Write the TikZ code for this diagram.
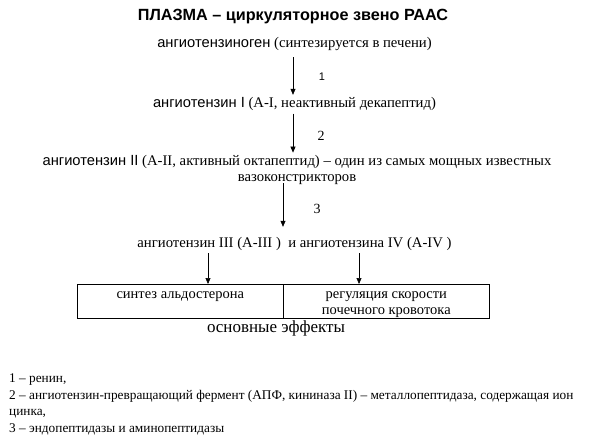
\documentclass[tikz,border=0pt]{standalone}
\usepackage{fontspec}
\setmainfont{Liberation Serif}
\newfontfamily\arial{Liberation Sans}
\usetikzlibrary{arrows.meta,positioning}
\tikzset{
  flow/.style={-{Triangle[length=6pt,width=5pt]}, line width=0.6pt},
  stage/.style={inner xsep=0pt, inner ysep=2pt, text height=10.5pt, text depth=4pt, anchor=base, font=\fontsize{14.7}{16.5}\selectfont},
  enzyme/.style={inner sep=0pt, font=\fontsize{14}{16}\selectfont},
  cell/.style={draw, line width=0.6pt, minimum width=206pt, minimum height=34pt, anchor=north west, inner sep=0pt},
  celltext/.style={inner sep=0pt, anchor=base, align=center, font=\fontsize{14.5}{16}\selectfont},
}
\begin{document}
\begin{tikzpicture}[x=1pt,y=-1pt]
\useasboundingbox (0,0) rectangle (591,442);
% title
\node[inner sep=0pt, anchor=base, font=\arial\bfseries\fontsize{16.2}{18}\selectfont] (title) at (293,20) {ПЛАЗМА – циркуляторное звено РААС};
% cascade
\node[stage] (agen) at (294.5,47.5) {{\arial ангиотензиноген} (синтезируется в печени)};
\node[stage] (ang1) at (294.5,107.5) {{\arial ангиотензин I} (A-I, неактивный декапептид)};
\node[stage, text height=, text depth=, align=center] (ang2) at (297,181.5) {{\arial ангиотензин II} (A-II, активный октапептид) – один из самых мощных известных\\вазоконстрикторов};
\node[stage] (ang3) at (294.5,247) {ангиотензин III (A-III )\ \ и ангиотензина IV (A-IV )};
% enzymes
\node[enzyme, font=\arial\fontsize{11}{12}\selectfont] (e1) at (322,77) {1};
\node[enzyme] (e2) at (321,136) {2};
\node[enzyme] (e3) at (317,209) {3};
\coordinate (c1) at (293,0);
\coordinate (c3) at (283,0);
\draw[flow, shorten <=3.5pt] (agen.south -| c1) -- (ang1.north -| c1);
\draw[flow] (ang1.south -| c1) -- (ang2.north -| c1);
\draw[flow, shorten <=-3.5pt, shorten >=7.5pt] (ang2.south -| c3) -- (ang3.north -| c3);
% effects
\node[cell] (aldo) at (77,284) {};
\node[cell] (flow) at (283,284) {};
\node[celltext] (aldotext) at ([yshift=-14pt]aldo.north) {синтез альдостерона};
\node[celltext] (flowtext) at ([yshift=-30.5pt]flow.north) {регуляция скорости\\почечного кровотока};
\coordinate (c4) at (208,0);
\coordinate (c5) at (359,0);
\draw[flow] (ang3.south -| c4) -- (aldo.north -| c4);
\draw[flow] (ang3.south -| c5) -- (flow.north -| c5);
\node[inner sep=0pt, anchor=base, font=\fontsize{17}{19}\selectfont] (effects) at (276,332.5) {основные эффекты};
% legend
\node[inner sep=0pt, anchor=base west, align=left, font=\fontsize{13.3}{16.5}\selectfont] (legend) at (9,432) {1 – ренин,\\
2 – ангиотензин-превращающий фермент (АПФ, кининаза II) – металлопептидаза, содержащая ион\\
цинка,\\
3 – эндопептидазы и аминопептидазы};
\end{tikzpicture}
\end{document}
